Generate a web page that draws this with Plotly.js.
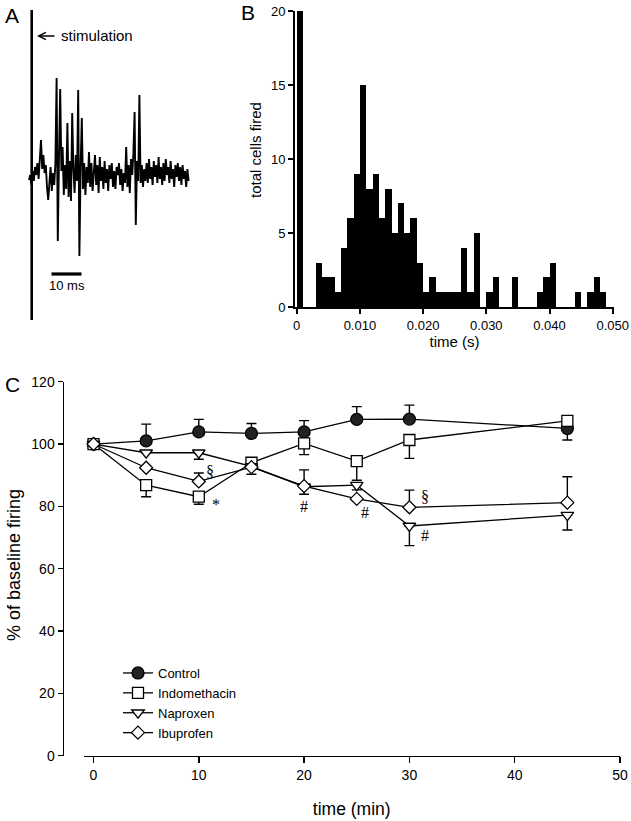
<!DOCTYPE html>
<html>
<head>
<meta charset="utf-8">
<script src="https://cdn.plot.ly/plotly-3.0.1.min.js"></script>
<style>html,body{margin:0;padding:0;background:#fff;}#chart{width:631px;height:821px;}</style>
</head>
<body>
<div id="chart"></div>
<script>
// ---------- Panel A: example recording (ms, arbitrary units) ----------
var traceDt = 0.4; // sampling step, ms
var traceV = [-3,2,-8,6,-4,10,2,14,-2,18,37,8,22,4,12,-10,-23,-6,10,-14,4,-8,14,99,-64,20,88,6,30,-18,12,-12,54,-20,16,-24,64,8,-16,22,-4,87,-79,10,59,-12,14,-18,10,-6,25,-10,14,-14,6,22,-8,12,-16,20,-4,10,-12,16,-6,8,-14,12,-2,14,-10,6,-12,10,2,14,-8,8,-14,4,-6,30,-10,12,-16,18,2,24,65,-48,16,-4,82,-6,12,-10,8,-4,14,-6,18,-2,10,-8,16,0,12,-6,20,-2,10,-8,14,-4,18,2,10,-6,16,-2,8,-10,12,0,14,-4,10,-8,12,-2,6,-10,8,-4];
var stimT = [0.9, 0.9];
var stimV = [167, -143];
var scaleBarT = [7.5, 17.5];
var scaleBarV = [-97, -97];

// ---------- Panel B: histogram of first-spike latency ----------
var binStart = 0.0;
var binWidth = 0.001;
var cellsFired = [20,0,0,3,2,2,1,4,6,9,15,8,9,6,8,5,7,5,6,3,1,2,1,1,1,1,4,1,5,0,1,2,0,0,2,0,0,0,1,2,3,0,0,0,1,0,1,2,1,0];
var histTickVals = [0, 0.01, 0.02, 0.03, 0.04, 0.05];
var histTickText = ['0', '0.010', '0.020', '0.030', '0.040', '0.050'];
var histYTicks = [0, 5, 10, 15, 20];

// ---------- Panel C: % of baseline firing over time ----------
var timeMin = [0, 5, 10, 15, 20, 25, 30, 45];
var control = [100, 101.0, 103.9, 103.4, 103.9, 107.9, 108.0, 105.0];
var controlUp = [0, 5.4, 4.0, 3.2, 3.6, 4.1, 4.5, 0];
var controlDn = [0, 0, 0, 0, 0, 0, 0, 3.7];
var indomethacin = [100, 86.8, 83.1, 94.0, 100.2, 94.5, 101.3, 107.4];
var indoUp = [0, 0, 0, 0, 0, 0, 0, 1.2];
var indoDn = [0, 3.7, 2.4, 0, 3.6, 6.1, 5.9, 0];
var naproxen = [100, 97.2, 97.2, 92.8, 86.3, 86.8, 73.7, 77.2];
var napUp = [0, 0, 0, 0, 0, 0, 0, 0];
var napDn = [0, 0, 2.1, 0, 0, 1.5, 6.3, 4.8];
var ibuprofen = [100, 92.4, 88.0, 92.6, 86.5, 82.4, 79.7, 81.2];
var ibuUp = [0, 0, 2.7, 0, 5.2, 0, 5.5, 8.3];
var ibuDn = [0, 0, 0, 2.3, 2.6, 0, 0, 0];
var sigText = ['§', '*', '#', '#', '§', '#'];
var sigX = [11.1, 11.6, 20.0, 25.8, 31.5, 31.5];
var sigY = [91.1, 80.5, 79.9, 78.0, 83.1, 70.8];
var timeTicks = [0, 10, 20, 30, 40, 50];
var pctTicks = [0, 20, 40, 60, 80, 100, 120];

var FONT = 'Liberation Sans, Arial, sans-serif';
var W = 631, H = 821;
function px(x) { return x / W; }
function py(y) { return (H - y) / H; }

var data = [];
// Panel A
data.push({type: 'scatter', mode: 'lines', x0: 0, dx: traceDt, y: traceV, xaxis: 'x', yaxis: 'y',
  line: {color: '#000', width: 1.9}, showlegend: false, hoverinfo: 'skip'});
data.push({type: 'scatter', mode: 'lines', x: stimT, y: stimV, xaxis: 'x', yaxis: 'y',
  line: {color: '#000', width: 2.6}, showlegend: false, hoverinfo: 'skip'});
data.push({type: 'scatter', mode: 'lines', x: scaleBarT, y: scaleBarV, xaxis: 'x', yaxis: 'y',
  line: {color: '#000', width: 3.2}, showlegend: false, hoverinfo: 'skip'});
// Panel B
data.push({type: 'bar', x0: binStart + binWidth / 2, dx: binWidth, width: binWidth, y: cellsFired,
  xaxis: 'x2', yaxis: 'y2', marker: {color: '#000', line: {width: 0}}, showlegend: false});
// Panel C
function series(name, y, up, dn, symbol, fill, size) {
  return {type: 'scatter', mode: 'lines+markers', name: name, x: timeMin, y: y, xaxis: 'x3', yaxis: 'y3',
    line: {color: '#000', width: 1.3},
    marker: {symbol: symbol, size: size, color: fill, line: {color: '#000', width: 1.3}},
    error_y: {type: 'data', symmetric: false, array: up, arrayminus: dn, color: '#000', thickness: 1.4, width: 5},
    cliponaxis: false};
}
data.push(series('Control', control, controlUp, controlDn, 'circle', '#222', 12));
data.push(series('Indomethacin', indomethacin, indoUp, indoDn, 'square', '#fff', 11));
data.push(series('Naproxen', naproxen, napUp, napDn, 'triangle-down', '#fff', 11));
data.push(series('Ibuprofen', ibuprofen, ibuUp, ibuDn, 'diamond', '#fff', 10));

function label(text, x, y, size, extra) {
  var a = {text: text, xref: 'paper', yref: 'paper', x: px(x), y: py(y), xanchor: 'center', yanchor: 'middle',
    showarrow: false, font: {family: FONT, size: size, color: '#000'}};
  for (var k in (extra || {})) a[k] = extra[k];
  return a;
}
var annotations = [
  label('A', 12, 15, 21),
  label('B', 248, 13, 21),
  label('C', 12, 384, 21),
  label('stimulation', 59, 36, 15, {xanchor: 'left'}),
  {text: '', xref: 'paper', yref: 'paper', x: px(37), y: py(36), ax: 19, ay: 0, showarrow: true,
    arrowhead: 5, arrowsize: 1.1, arrowwidth: 1.3, arrowcolor: '#000', standoff: 0, startstandoff: 0},
  {text: '10 ms', xref: 'x', yref: 'y', x: (scaleBarT[0] + scaleBarT[1]) / 2, y: scaleBarV[0] - 11,
    xanchor: 'center', yanchor: 'middle', showarrow: false, font: {family: FONT, size: 13, color: '#000'}},
  label('total cells fired', 255, 150, 15, {textangle: -90}),
  label('% of baseline firing', 14, 565, 18, {textangle: -90})
];
for (var i = 0; i < sigText.length; i++) {
  annotations.push({text: sigText[i], xref: 'x3', yref: 'y3', x: sigX[i], y: sigY[i], showarrow: false,
    xanchor: 'center', yanchor: 'middle',
    font: {family: 'Liberation Serif, Times New Roman, serif', size: 16, color: '#000'}});
}

var layout = {
  width: W, height: H,
  margin: {l: 0, r: 0, t: 0, b: 0},
  paper_bgcolor: '#fff', plot_bgcolor: 'rgba(0,0,0,0)',
  font: {family: FONT, color: '#000'},
  bargap: 0,
  xaxis: {domain: [px(20), px(200)], range: [-3, 57], visible: false, fixedrange: true},
  yaxis: {domain: [py(325), py(5)], range: [-148, 172], visible: false, fixedrange: true},
  xaxis2: {domain: [px(295), px(614)], range: [-0.00027, 0.0502], anchor: 'y2',
    showline: true, linewidth: 2, linecolor: '#000', showgrid: false, zeroline: false,
    ticks: 'outside', ticklen: 5, tickwidth: 2, tickcolor: '#000',
    tickmode: 'array', tickvals: histTickVals, ticktext: histTickText, tickfont: {size: 13},
    title: {text: 'time (s)', font: {size: 15}, standoff: 5}},
  yaxis2: {domain: [py(307), py(11)], range: [0, 20], anchor: 'x2',
    showline: true, linewidth: 2, linecolor: '#000', showgrid: false, zeroline: false,
    ticks: 'outside', ticklen: 5, tickwidth: 2, tickcolor: '#000',
    tickmode: 'array', tickvals: histYTicks, tickfont: {size: 13}},
  xaxis3: {domain: [px(83.5), px(620)], range: [-0.95, 50], anchor: 'y3',
    showline: true, linewidth: 1.5, linecolor: '#000', showgrid: false, zeroline: false,
    ticks: 'outside', ticklen: 6, tickwidth: 1.5, tickcolor: '#000',
    tickmode: 'array', tickvals: timeTicks, tickfont: {size: 14},
    title: {text: 'time (min)', font: {size: 17.5}, standoff: 20}},
  yaxis3: {domain: [py(755.7), py(381.7)], range: [0, 120], anchor: 'free', position: px(62.5),
    showline: true, linewidth: 1.5, linecolor: '#000', showgrid: false, zeroline: false,
    ticks: 'outside', ticklen: 5, tickwidth: 1.5, tickcolor: '#000',
    tickmode: 'array', tickvals: pctTicks, tickfont: {size: 14}},
  showlegend: true,
  legend: {x: px(118), y: py(658), xanchor: 'left', yanchor: 'top', bgcolor: 'rgba(0,0,0,0)',
    font: {size: 13}, tracegroupgap: 0},
  annotations: annotations
};

Plotly.newPlot('chart', data, layout, {staticPlot: true, displayModeBar: false});
</script>
</body>
</html>
